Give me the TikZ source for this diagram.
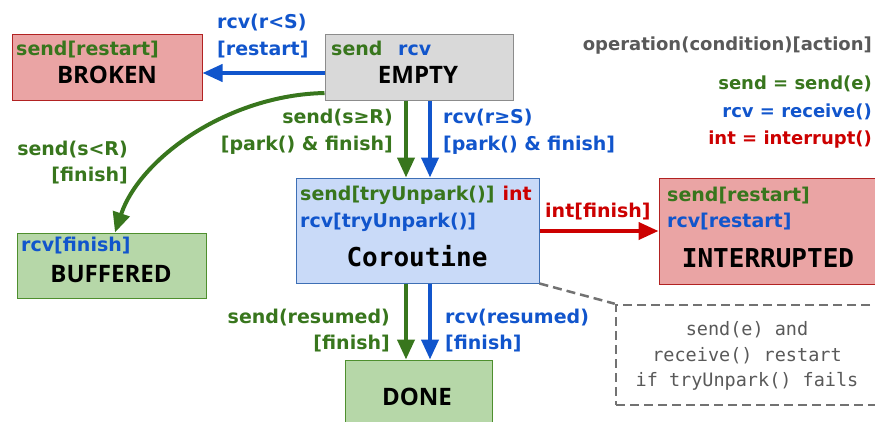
\documentclass[tikz,border=0pt]{standalone}
\usepackage{fontspec}
\setmainfont{DejaVu Sans}
\newfontfamily\titf{Open Sans}
\newfontfamily\monof{DejaVu Sans Mono}
\usetikzlibrary{arrows.meta}
\definecolor{cg}{HTML}{38761D}
\definecolor{cb}{HTML}{1155CC}
\definecolor{cr}{HTML}{CC0000}
\definecolor{cgray}{HTML}{595959}
\definecolor{fred}{HTML}{EAA4A4}
\definecolor{fgray}{HTML}{D9D9D9}
\definecolor{fgreen}{HTML}{B6D7A8}
\definecolor{fblue}{HTML}{C9DAF8}
\definecolor{bred}{HTML}{B22222}
\definecolor{bgray}{HTML}{8C8C8C}
\definecolor{bgreen}{HTML}{4E8F2E}
\definecolor{bblue}{HTML}{3D6FB5}
\tikzset{
  box/.style={draw, line width=1pt, inner sep=0pt, anchor=center},
  lbl/.style={font=\fontsize{19}{22}\selectfont\bfseries, inner sep=0pt},
  leg/.style={font=\fontsize{18}{22}\selectfont\bfseries, inner sep=0pt, anchor=base east},
  ttl/.style={font=\titf\fontsize{24}{26}\selectfont\bfseries, inner sep=0pt, text=black, anchor=base},
  mttl/.style={font=\monof\fontsize{26}{28}\selectfont\bfseries, inner sep=0pt, text=black, anchor=base},
  notetxt/.style={font=\monof\fontsize{18.5}{22}\selectfont, text=cgray, inner sep=0pt, anchor=base},
  arr/.style={line width=4pt, -{Triangle[length=20pt,width=17pt]}},
  dsh/.style={draw=cgray!85, line width=2.5pt, dash pattern=on 9pt off 5pt},
  bw/.style={anchor=base west},
  be/.style={anchor=base east},
}
\begin{document}
\begin{tikzpicture}[x=1pt,y=-1pt]
\useasboundingbox (0,0) rectangle (875,421);
% boxes
\node[box, fill=fred, draw=bred, minimum width=190pt, minimum height=66pt] (broken) at (107,67) {};
\node[box, fill=fgray, draw=bgray, minimum width=188pt, minimum height=66pt] (empty) at (419,67) {};
\node[box, fill=fgreen, draw=bgreen, minimum width=189pt, minimum height=65pt] (buf) at (111.5,265.5) {};
\node[box, fill=fblue, draw=bblue, minimum width=243pt, minimum height=105pt] (cor) at (417.5,230.5) {};
\node[box, fill=fred, draw=bred, minimum width=222pt, minimum height=106pt] (intr) at (770,231) {};
\node[box, fill=fgreen, draw=bgreen, minimum width=147pt, minimum height=70pt] (done) at (418.5,395) {};
\node[box, dsh, minimum width=266pt, minimum height=100pt] (note) at (749,355) {};
% box texts
\node[lbl, text=cg, bw] (t1) at (16,55) {send[restart]};
\node[ttl] (t2) at (107,83) {BROKEN};
\node[lbl, text=cg, bw] (t3) at (331,55) {send};
\node[lbl, text=cb, bw] (t3b) at (398,55) {rcv};
\node[ttl] (t4) at (418,83) {EMPTY};
\node[lbl, text=cb, bw] (t5) at (21,251) {rcv[finish]};
\node[ttl] (t6) at (111,282) {BUFFERED};
\node[lbl, text=cg, bw] (t7) at (300,200) {send[tryUnpark()]};
\node[lbl, text=cr, be] (t7b) at (532,200) {int};
\node[lbl, text=cb, bw] (t8) at (300,227) {rcv[tryUnpark()]};
\node[mttl] (t9) at (417,266) {Coroutine};
\node[lbl, text=cg, bw] (t10) at (667,201) {send[restart]};
\node[lbl, text=cb, bw] (t11) at (667,227) {rcv[restart]};
\node[mttl] (t12) at (768,267) {INTERRUPTED};
\node[ttl] (t13) at (417,405) {DONE};
\node[notetxt] (n1) at (747,335) {send(e) and};
\node[notetxt] (n2) at (747,361) {receive() restart};
\node[notetxt] (n3) at (747,386) {if tryUnpark() fails};
% legend
\node[leg, text=cgray] (l1) at (872,50) {operation(condition)[action]};
\node[leg, text=cg] (l2) at (872,89) {send = send(e)};
\node[leg, text=cb] (l3) at (872,117) {rcv = receive()};
\node[leg, text=cr] (l4) at (872,144) {int = interrupt()};
% connectors
\coordinate (gx) at (406,0);
\coordinate (bx) at (430,0);
\draw[arr, cb] (empty.west |- 0,73) -- (broken.east |- 0,73);
\draw[arr, cg] (empty.south -| gx) -- (cor.north -| gx);
\draw[arr, cb] (empty.south -| bx) -- (cor.north -| bx);
\draw[arr, cg] (cor.south -| gx) -- (done.north -| gx);
\draw[arr, cb] (cor.south -| bx) -- (done.north -| bx);
\draw[arr, cr] (cor.east |- 0,231) -- (intr.west |- 0,231);
\draw[arr, cg] (empty.west |- 0,93) .. controls (228,95) and (140,158) .. (buf.north -| 115,0);
\draw[dsh] (cor.south east) -- (note.north west);
% connector labels
\node[lbl, text=cb, bw] (c1) at (217,28) {rcv(r<S)};
\node[lbl, text=cb, bw] (c1b) at (217,55) {[restart]};
\node[lbl, text=cg, be] (c2) at (393,123) {send(s≥R)};
\node[lbl, text=cg, be] (c2b) at (393,150) {[park() \& finish]};
\node[lbl, text=cb, bw] (c3) at (443,123) {rcv(r≥S)};
\node[lbl, text=cb, bw] (c3b) at (443,150) {[park() \& finish]};
\node[lbl, text=cg, be] (c4) at (128,155) {send(s<R)};
\node[lbl, text=cg, be] (c4b) at (128,181) {[finish]};
\node[lbl, text=cr, bw] (c5) at (545,217) {int[finish]};
\node[lbl, text=cg, be] (c6) at (390,323) {send(resumed)};
\node[lbl, text=cg, be] (c6b) at (390,349) {[finish]};
\node[lbl, text=cb, bw] (c7) at (445,323) {rcv(resumed)};
\node[lbl, text=cb, bw] (c7b) at (445,349) {[finish]};
\end{tikzpicture}
\end{document}
